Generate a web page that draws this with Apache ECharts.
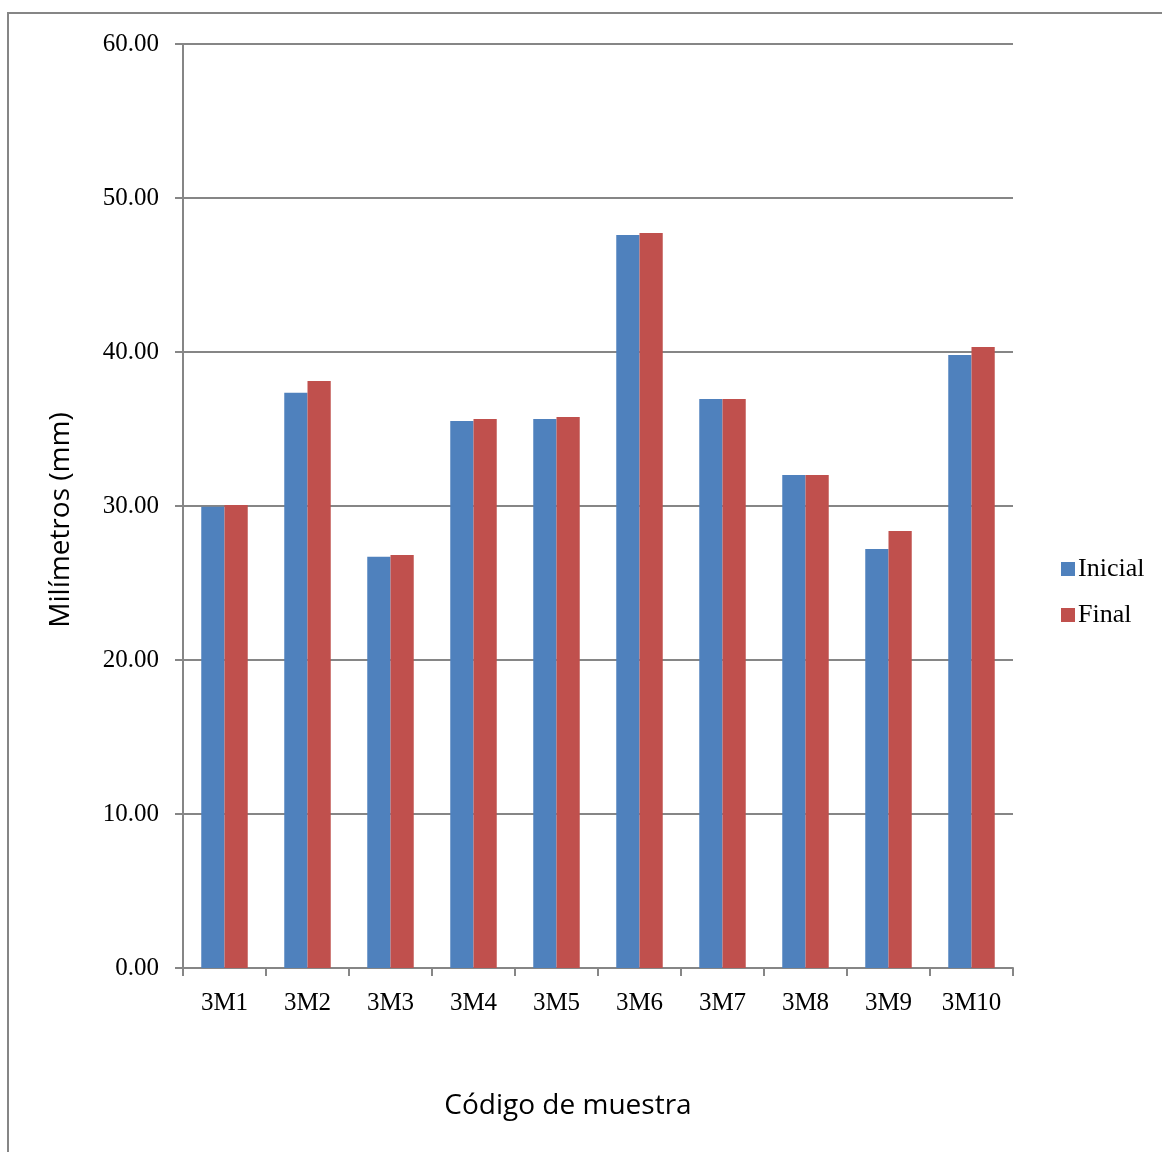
<!DOCTYPE html>
<html>
<head>
<meta charset="utf-8">
<script src="https://cdn.jsdelivr.net/npm/echarts@6/dist/echarts.min.js"></script>
<style>
  html, body { margin: 0; padding: 0; background: #fff; }
  #chart { width: 1162px; height: 1152px; }
</style>
</head>
<body>
<div id="chart"></div>
<script>
// Códigos de muestra
const categories = ['3M1', '3M2', '3M3', '3M4', '3M5', '3M6', '3M7', '3M8', '3M9', '3M10'];
// Valores (mm)
const inicial = [29.95, 37.35, 26.70, 35.52, 35.65, 47.60, 36.95, 32.01, 27.21, 39.81];
const final = [30.06, 38.12, 26.82, 35.65, 35.78, 47.73, 36.95, 32.01, 28.38, 40.32];
const yTicks = [0, 10, 20, 30, 40, 50, 60];

let myChart = echarts.init(document.getElementById('chart'));

const serif = '"Liberation Serif", "DejaVu Serif", serif';
const sans = '"Open Sans", "Noto Sans", sans-serif';
const gray = '#868686';

let option = {
  animation: false,
  backgroundColor: '#fff',
  graphic: [{
    type: 'rect',
    shape: { x: 8, y: 13, width: 1170, height: 1160 },
    style: { fill: 'none', stroke: gray, lineWidth: 2 },
    silent: true
  }],
  legend: {
    orient: 'vertical',
    left: 1056,
    top: 551,
    itemWidth: 14,
    itemHeight: 14,
    itemGap: 20,
    icon: 'rect',
    textStyle: { fontFamily: serif, fontSize: 26, color: '#000', padding: [0, 0, 0, -2] },
    data: ['Inicial', 'Final']
  },
  grid: { left: 183, top: 44, width: 830, height: 924 },
  xAxis: {
    type: 'category',
    data: categories,
    name: 'Código de muestra',
    nameLocation: 'middle',
    nameGap: 124,
    nameTextStyle: { fontFamily: sans, fontSize: 28, color: '#000', padding: [0, 60, 0, 0] },
    axisLine: { lineStyle: { color: gray, width: 2 } },
    axisTick: { show: true, length: 8, lineStyle: { color: gray, width: 2 } },
    axisLabel: { fontFamily: serif, fontSize: 25, color: '#000', margin: 23 }
  },
  yAxis: {
    type: 'value',
    min: yTicks[0],
    max: yTicks[yTicks.length - 1],
    interval: 10,
    name: 'Milímetros (mm)',
    nameLocation: 'middle',
    nameGap: 108,
    nameTextStyle: { fontFamily: sans, fontSize: 28, color: '#000', padding: [0, 28, 0, 0] },
    axisLine: { show: true, lineStyle: { color: gray, width: 2 } },
    axisTick: { show: true, length: 8, lineStyle: { color: gray, width: 2 } },
    axisLabel: {
      fontFamily: serif, fontSize: 25, color: '#000', margin: 24,
      formatter: v => v.toFixed(2)
    },
    splitLine: { lineStyle: { color: gray, width: 2 } }
  },
  series: [
    {
      name: 'Inicial',
      type: 'bar',
      data: inicial,
      barGap: '0%',
      barCategoryGap: '44%',
      itemStyle: { color: '#4F81BD' }
    },
    {
      name: 'Final',
      type: 'bar',
      data: final,
      barGap: '0%',
      barCategoryGap: '44%',
      itemStyle: { color: '#C0504D' }
    }
  ]
};

option && myChart.setOption(option);
</script>
</body>
</html>
